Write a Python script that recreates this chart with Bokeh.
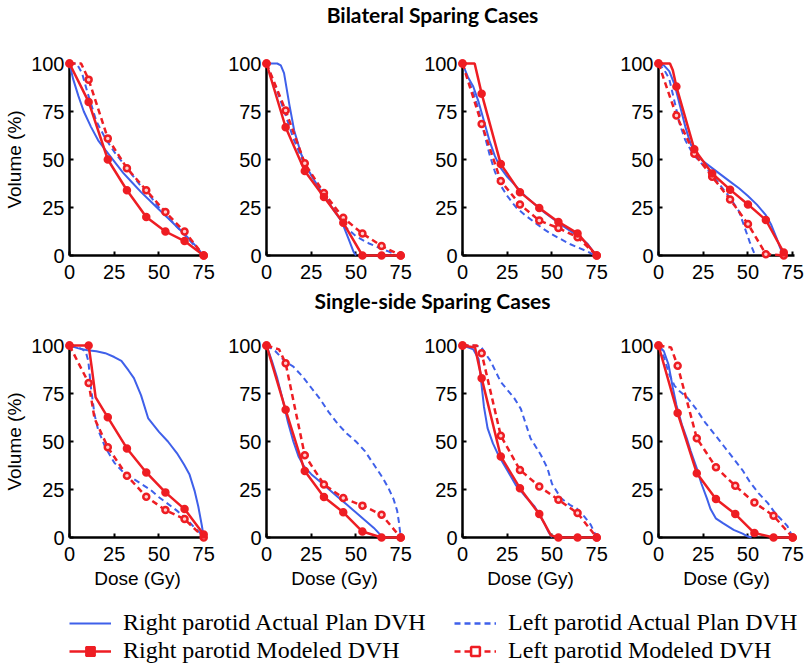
from bokeh.plotting import figure
from bokeh.layouts import column, row
from bokeh.models import Range1d, Label, Legend, LegendItem, FixedTicker
from bokeh.embed import file_html
from bokeh.resources import INLINE

# ---------------- texts ----------------
TITLE_TOP = "Bilateral Sparing Cases"
TITLE_BOTTOM = "Single-side Sparing Cases"
X_LABEL = "Dose (Gy)"
Y_LABEL = "Volume (%)"
X_TICKS = [0, 25, 50, 75]
Y_TICKS = [0, 25, 50, 75, 100]
LEG_RA = "Right parotid Actual Plan DVH"
LEG_RM = "Right parotid Modeled DVH"
LEG_LA = "Left parotid Actual Plan DVH"
LEG_LM = "Left parotid Modeled DVH"

# marker dose grids of the modeled DVHs
MD75 = [0, 10.7, 21.4, 32.1, 42.9, 53.6, 64.3, 75]
MD70 = [0, 10, 20, 30, 40, 50, 60, 70]

# ---------------- Bilateral 1 ----------------
B1_RA_x = [0, 2, 5, 8, 12, 16, 20, 25, 30, 35, 40, 45, 50, 55, 60, 65, 70, 74, 75]
B1_RA_y = [100, 92, 83, 75, 67, 60, 55, 49, 43, 38, 33, 28.5, 24, 19.5, 15, 10.5, 5.5, 1, 0]
B1_LA_x = [0, 4, 7, 10, 15, 20, 25, 30, 35, 40, 45, 50, 55, 60, 65, 70, 74, 75]
B1_LA_y = [100, 100, 95, 85, 70, 61, 54, 48, 42, 36, 31, 25, 20, 15, 10, 5, 1, 0]
B1_RM_x = [0, 10.7, 21.4, 32.1, 42.9, 53.6, 64.3, 75]
B1_RM_y = [100, 80, 50, 34, 20, 12.5, 7.5, 0]
B1_LM_x = [0, 6.5, 10.7, 21.4, 32.1, 42.9, 53.6, 64.3, 75]
B1_LM_y = [100, 100, 91.6, 61, 45.5, 34, 22.6, 12.5, 0]

# ---------------- Bilateral 2 ----------------
B2_RA_x = [0, 6, 8, 9.8, 12.7, 15.5, 19.3, 23, 26.8, 30.5, 34.4, 38, 42, 45.7, 48.6, 50]
B2_RA_y = [100, 100, 99, 95, 79, 65, 53, 45, 39, 33.5, 28, 23, 17.8, 9, 2, 0]
B2_LA_x = [0, 5, 10, 15, 20, 25, 30, 35, 40, 43.9, 50, 57, 63, 68.4, 73]
B2_LA_y = [100, 88, 75, 61, 50, 42, 35, 28, 21, 15, 10, 6.4, 4, 2, 0]
B2_RM_x = [0, 10.7, 21.4, 32.1, 42.9, 53.6, 64.3, 75]
B2_RM_y = [100, 66.8, 44, 30.5, 17, 0, 0, 0]
B2_LM_x = [0, 10.7, 21.4, 32.1, 42.9, 53.6, 64.3, 75]
B2_LM_y = [100, 75.5, 48, 32.5, 19.6, 11.4, 5, 0]

# ---------------- Bilateral 3 ----------------
B3_RA_x = [0, 3, 6, 9, 12, 15, 18, 21, 25, 30, 35, 40, 45, 50, 55, 60, 65, 70, 73, 75]
B3_RA_y = [100, 93, 88, 80, 70, 60, 52, 46, 41, 36, 31, 27, 23, 19.5, 16, 13, 10, 6, 2, 0]
B3_LA_x = [0, 3, 6, 9, 12, 15, 18, 21, 25, 30, 35, 40, 45, 50, 55, 60, 65, 70, 74]
B3_LA_y = [100, 92, 85, 76, 64, 53, 44, 37, 31, 25, 21, 17.5, 14, 11, 8.5, 6, 4, 2, 0]
B3_RM_x = [0, 6.8, 10.7, 21.4, 32.1, 42.9, 53.6, 64.3, 75]
B3_RM_y = [100, 100, 84.3, 47.6, 33, 24.8, 17.5, 11.5, 0]
B3_LM_x = [0, 10.7, 21.4, 32.1, 42.9, 53.6, 64.3, 75]
B3_LM_y = [100, 68.5, 38.8, 26.6, 18.2, 14.3, 9.5, 0]

# ---------------- Bilateral 4 ----------------
B4_RA_x = [0, 3, 6, 9, 12, 15, 18, 21, 25, 30, 35, 40, 45, 50, 55, 60, 63, 66, 68, 70]
B4_RA_y = [100, 99, 96, 89, 78, 67, 58, 53, 49, 45.5, 42, 38.5, 35, 31, 26.5, 21, 16, 9, 4, 0]
B4_LA_x = [0, 3, 6, 9, 12, 15, 18, 21, 25, 30, 35, 40, 45, 48, 51, 54]
B4_LA_y = [100, 97, 92, 80, 68, 60, 55, 51, 47, 42, 36, 30, 23, 15, 7, 0]
B4_RM_x = [0, 6.4, 8, 10, 20, 30, 40, 50, 60, 70]
B4_RM_y = [100, 100, 96.5, 88, 55.4, 42.7, 34.3, 26.6, 18.5, 1.5]
B4_LM_x = [0, 10, 20, 30, 40, 50, 60, 70]
B4_LM_y = [100, 72.9, 53, 41, 29.2, 16.4, 0.7, 0]

# ---------------- Single-side 1 ----------------
S1_RA_x = [0, 5, 10, 15, 20, 25, 29, 33, 36, 40, 44, 50, 55, 60, 64, 67, 70, 72, 74, 75]
S1_RA_y = [100, 98.5, 97.5, 97, 96, 94, 92, 87, 83, 74, 62, 55, 50, 44, 38, 33, 24, 16, 6, 0]
S1_LA_x = [0, 5, 9, 10.5, 12, 14, 16, 20, 25, 30, 35, 40, 45, 50, 55, 60, 65, 70, 74, 75]
S1_LA_y = [100, 99, 97, 92, 78, 64, 56, 47, 39, 34, 31, 28, 25, 21, 17.5, 14, 10, 5, 1.5, 0]
S1_RM_x = [0, 10.7, 12.5, 14.6, 21.4, 32.1, 42.9, 53.6, 64.3, 75]
S1_RM_y = [100, 100, 88, 73, 62.6, 46.4, 33.9, 23.5, 14.8, 1.5]
S1_LM_x = [0, 10.7, 14, 21.4, 32.1, 42.9, 53.6, 64.3, 75]
S1_LM_y = [100, 80.5, 62, 47, 32.2, 21.2, 14.3, 9.6, 0]

# ---------------- Single-side 2 ----------------
S2_RA_x = [0, 3, 6, 9, 12, 15, 18, 21, 25, 30, 35, 40, 45, 50, 55, 60, 63, 65.6]
S2_RA_y = [100, 92, 83, 72, 60, 50, 42, 37, 33, 29, 25, 21, 17, 13, 9, 5, 2, 0]
S2_LA_x = [0, 5, 10, 15, 20, 25, 30, 35, 40, 45, 50, 55, 60, 65, 68, 71, 73, 74, 75]
S2_LA_y = [100, 97, 92, 89, 84, 78, 72, 65, 59, 54, 50, 45, 38, 31, 26, 20, 14, 8, 0]
S2_RM_x = [0, 10.7, 21.4, 32.1, 42.9, 53.6, 64.3, 75]
S2_RM_y = [100, 66.5, 34.6, 21.1, 13.1, 3.1, 0, 0]
S2_LM_x = [0, 7, 10.7, 21.4, 32.1, 42.9, 53.6, 64.3, 75]
S2_LM_y = [100, 98, 90.7, 42.8, 27.6, 20.6, 16.6, 11.9, 0]

# ---------------- Single-side 3 ----------------
S3_RA_x = [0, 3, 6, 9, 10, 12, 14, 17, 20, 25, 30, 35, 40, 43, 46, 48, 50]
S3_RA_y = [100, 99, 98, 93, 85, 68, 57, 49, 43, 35, 27, 21.5, 16.5, 12, 7, 3, 0]
S3_LA_x = [0, 5, 10.2, 15.8, 21.4, 28.9, 32.6, 38, 43.8, 47.5, 50, 55, 60, 64, 68, 71.7, 75]
S3_LA_y = [100, 100, 99.5, 91.7, 81, 72.6, 67, 51.7, 43, 36, 28, 20.5, 17, 15, 11, 6.6, 0]
S3_RM_x = [0, 7, 10.7, 21.4, 32.1, 42.9, 49.5, 53.6, 64.3, 75]
S3_RM_y = [100, 99, 83, 42.2, 25.7, 12.2, 1, 0, 0, 0]
S3_LM_x = [0, 8, 10.7, 21.4, 32.1, 42.9, 53.6, 64.3, 75]
S3_LM_y = [100, 100, 96, 53, 35.2, 26.6, 19.6, 12.7, 0]

# ---------------- Single-side 4 ----------------
S4_RA_x = [0, 3, 5.6, 8, 10, 13, 15.8, 18, 21.4, 24, 27, 29, 32, 36, 42, 47, 50, 52]
S4_RA_y = [100, 97, 90, 78, 69, 59, 51.7, 45, 36, 28, 20.5, 15, 10, 7.5, 4, 2, 0.5, 0]
S4_LA_x = [0, 3, 6, 9, 12, 16, 21, 26, 32, 37, 42, 47, 51, 56, 61, 65, 69, 72, 75]
S4_LA_y = [100, 94, 85, 79, 76, 73, 67, 60, 53, 47, 41, 35, 29, 23, 18, 13, 9, 6, 0]
S4_RM_x = [0, 10.7, 21.4, 32.1, 42.9, 53.6, 64.3, 75]
S4_RM_y = [100, 64.8, 33.5, 20, 12.2, 2.3, 0, 0]
S4_LM_x = [0, 7, 10.7, 21.4, 32.1, 42.9, 53.6, 64.3, 75]
S4_LM_y = [100, 99, 89.4, 51.7, 36.6, 26.9, 18.2, 11.3, 0]

# ---------------- styles ----------------
BLUE = "#3f60ea"
RED = "#ee1d23"
TICK_FONT = "Liberation Sans"
LEG_FONT = "Liberation Serif"
TITLE_FONT = "Lato"

FRAME_W = 136
FRAME_H = 192
LEFTS = [69, 49, 48, 48]
RIGHTS = [12, 12, 12, 10]
TOTAL_W = sum(LEFTS) + sum(RIGHTS) + 4 * FRAME_W
NAN = float("nan")


def markers_of(xs, ys, grid):
    mx, my = [], []
    for x, y in zip(xs, ys):
        if any(abs(x - g) < 1e-6 for g in grid):
            mx.append(x)
            my.append(y)
    return mx, my


def panel(idx, top, bottom, data, grid, ylabel, xlabel):
    ra_x, ra_y, la_x, la_y, rm_x, rm_y, lm_x, lm_y = data
    p = figure(width=LEFTS[idx] + FRAME_W + RIGHTS[idx], height=top + FRAME_H + bottom,
               x_range=Range1d(0, 76), y_range=Range1d(0, 100),
               output_backend="svg", toolbar_location=None,
               min_border_left=LEFTS[idx], min_border_right=RIGHTS[idx],
               min_border_top=top, min_border_bottom=bottom)
    p.outline_line_color = None
    p.grid.visible = False
    p.background_fill_color = "white"
    p.border_fill_color = "white"
    p.xaxis.ticker = FixedTicker(ticks=X_TICKS)
    p.yaxis.ticker = FixedTicker(ticks=Y_TICKS)
    for ax in (p.xaxis, p.yaxis):
        ax.axis_line_width = 2.5
        ax.axis_line_color = "black"
        ax.major_tick_in = 4
        ax.major_tick_out = 0
        ax.major_tick_line_width = 2
        ax.minor_tick_line_color = None
        ax.major_label_text_font = TICK_FONT
        ax.major_label_text_font_size = "20px"
        ax.major_label_text_color = "black"
        ax.axis_label_text_font = TICK_FONT
        ax.axis_label_text_font_size = "19px"
        ax.axis_label_text_font_style = "normal"
        ax.axis_label_text_color = "black"
    p.xaxis.major_label_standoff = 9
    p.yaxis.major_label_standoff = 5
    if ylabel:
        p.yaxis.axis_label = Y_LABEL
        p.yaxis.axis_label_standoff = 3
    if xlabel:
        p.xaxis.axis_label = X_LABEL
        p.xaxis.axis_label_standoff = 4

    p.line(ra_x, ra_y, line_color=BLUE, line_width=2, level="overlay")
    p.line(la_x, la_y, line_color=BLUE, line_width=2, line_dash="6 4", level="overlay")
    p.line(lm_x, lm_y, line_color=RED, line_width=2.5, line_dash="6 4", level="overlay")
    p.line(rm_x, rm_y, line_color=RED, line_width=2.5, level="overlay")
    mx, my = markers_of(lm_x, lm_y, grid)
    p.scatter(mx, my, marker="circle", size=6, line_color=RED, line_width=2.5,
              fill_color="#ffd0d0", level="overlay")
    mx, my = markers_of(rm_x, rm_y, grid)
    p.scatter(mx, my, marker="circle", size=6, line_color=RED, line_width=2.5,
              fill_color=RED, level="overlay")
    return p


top_data = [
    (B1_RA_x, B1_RA_y, B1_LA_x, B1_LA_y, B1_RM_x, B1_RM_y, B1_LM_x, B1_LM_y),
    (B2_RA_x, B2_RA_y, B2_LA_x, B2_LA_y, B2_RM_x, B2_RM_y, B2_LM_x, B2_LM_y),
    (B3_RA_x, B3_RA_y, B3_LA_x, B3_LA_y, B3_RM_x, B3_RM_y, B3_LM_x, B3_LM_y),
    (B4_RA_x, B4_RA_y, B4_LA_x, B4_LA_y, B4_RM_x, B4_RM_y, B4_LM_x, B4_LM_y),
]
bot_data = [
    (S1_RA_x, S1_RA_y, S1_LA_x, S1_LA_y, S1_RM_x, S1_RM_y, S1_LM_x, S1_LM_y),
    (S2_RA_x, S2_RA_y, S2_LA_x, S2_LA_y, S2_RM_x, S2_RM_y, S2_LM_x, S2_LM_y),
    (S3_RA_x, S3_RA_y, S3_LA_x, S3_LA_y, S3_RM_x, S3_RM_y, S3_LM_x, S3_LM_y),
    (S4_RA_x, S4_RA_y, S4_LA_x, S4_LA_y, S4_RM_x, S4_RM_y, S4_LM_x, S4_LM_y),
]
top_grids = [MD75, MD75, MD75, MD70]
bot_grids = [MD75, MD75, MD75, MD75]

row1 = [panel(i, 23, 33, top_data[i], top_grids[i], i == 0, False) for i in range(4)]
row2 = [panel(i, 27, 61, bot_data[i], bot_grids[i], i == 0, True) for i in range(4)]


def blank(height):
    f = figure(width=TOTAL_W, height=height, x_range=Range1d(0, 1), y_range=Range1d(0, 1),
               x_axis_type=None, y_axis_type=None, output_backend="svg",
               toolbar_location=None, min_border=0)
    f.outline_line_color = None
    f.grid.visible = False
    return f


def title_fig(text, height, y_from_bottom):
    f = blank(height)
    f.add_layout(Label(x=432, y=y_from_bottom, x_units="screen", y_units="screen",
                       text=text, text_align="center", text_baseline="middle",
                       text_font=TITLE_FONT, text_font_style="bold",
                       text_font_size="21px", text_color="black"))
    return f


t1 = title_fig(TITLE_TOP, 40, 26)
t2 = title_fig(TITLE_BOTTOM, 30, 18)

leg = blank(66)
r_ra = leg.line([NAN], [NAN], line_color=BLUE, line_width=2)
r_rm_l = leg.line([NAN], [NAN], line_color=RED, line_width=2.5)
r_rm_m = leg.scatter([NAN], [NAN], marker="square", size=7, line_color=RED, line_width=2, fill_color=RED)
r_la = leg.line([NAN], [NAN], line_color=BLUE, line_width=2.5, line_dash="6 4")
r_lm_l = leg.line([NAN], [NAN], line_color=RED, line_width=2.5, line_dash="6 4")
r_lm_m = leg.scatter([NAN], [NAN], marker="square", size=7, line_color=RED, line_width=2.5, fill_color="white")


def make_legend(items, x):
    return Legend(items=items, location=(x, 0), orientation="vertical",
                  label_text_font=LEG_FONT, label_text_font_size="24px",
                  label_text_color="black", glyph_width=42, glyph_height=22,
                  label_standoff=12, spacing=1, padding=0, margin=0,
                  border_line_color=None, background_fill_alpha=0)


leg.add_layout(make_legend([LegendItem(label=LEG_RA, renderers=[r_ra]),
                            LegendItem(label=LEG_RM, renderers=[r_rm_l, r_rm_m])], 69), "center")
leg.add_layout(make_legend([LegendItem(label=LEG_LA, renderers=[r_la]),
                            LegendItem(label=LEG_LM, renderers=[r_lm_l, r_lm_m])], 454), "center")

page = column(t1, row(*row1), t2, row(*row2), leg)

open("out.html", "w").write(file_html(page, INLINE))
